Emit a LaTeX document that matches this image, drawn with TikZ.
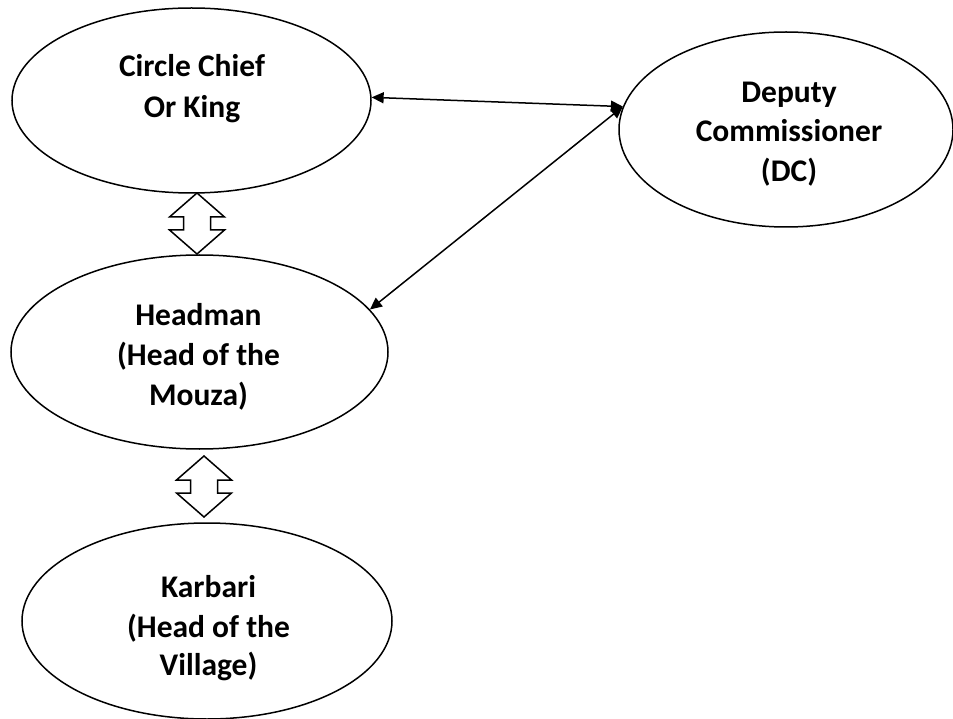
\documentclass[tikz,border=0pt]{standalone}
\usepackage{fontspec}
\setmainfont{Carlito}
\usetikzlibrary{shapes.geometric,arrows.meta}
\tikzset{
  oval/.style={draw=black, line width=1.5pt, ellipse, inner sep=0pt, fill=white},
  lbl/.style={anchor=base, inner sep=0pt, font=\fontsize{31.5}{39.5}\selectfont\bfseries},
  link/.style={line width=1.5pt, {Triangle[length=12pt,width=11pt]}-{Triangle[length=12pt,width=11pt]}},
  blockarrow/.style={draw=black, line width=1.5pt, fill=white, line join=miter}
}
\begin{document}
\begin{tikzpicture}[x=1pt,y=-1pt]
\useasboundingbox (0,0) rectangle (953,719);
% ellipses
\node[oval, minimum width=359pt, minimum height=185pt] (chief) at (191.5,100.5) {};
\node[oval, minimum width=334pt, minimum height=195pt] (dc) at (786,129.5) {};
\node[oval, minimum width=377pt, minimum height=194pt] (head) at (199.5,352) {};
\node[oval, minimum width=370pt, minimum height=196pt] (karb) at (207,621) {};
% labels
\node[lbl] (chief1) at (192,77) {Circle Chief};
\node[lbl] (chief2) at (192,118) {Or King};
\node[lbl] (dc1) at (789,102.7) {Deputy};
\node[lbl] (dc2) at (789,141.7) {Commissioner};
\node[lbl] (dc3) at (789,181.7) {(DC)};
\node[lbl] (head1) at (198.5,326) {Headman};
\node[lbl] (head2) at (198.5,365) {(Head of the};
\node[lbl] (head3) at (198.5,405) {Mouza)};
\node[lbl] (karb1) at (208.5,597) {Karbari};
\node[lbl] (karb2) at (208.5,637) {(Head of the};
\node[lbl] (karb3) at (208.5,675) {Village)};
% thin double-headed connectors
\draw[link] (chief.1) -- (dc.172);
\draw[link] (dc.172) -- (head.14);
% block double arrows
\coordinate (a1t) at (197,193);
\coordinate (a1b) at (197,254);
\coordinate (a2t) at (204,456);
\coordinate (a2b) at (204,517);
\draw[blockarrow] (a1t) -- ++(27.5,24) -- ++(-14,0) -- ++(0,13) -- ++(14,0) -- (a1b)
  -- ++(-27.5,-24) -- ++(14,0) -- ++(0,-13) -- ++(-14,0) -- cycle;
\draw[blockarrow] (a2t) -- ++(27.5,24) -- ++(-14,0) -- ++(0,13) -- ++(14,0) -- (a2b)
  -- ++(-27.5,-24) -- ++(14,0) -- ++(0,-13) -- ++(-14,0) -- cycle;
\end{tikzpicture}
\end{document}
